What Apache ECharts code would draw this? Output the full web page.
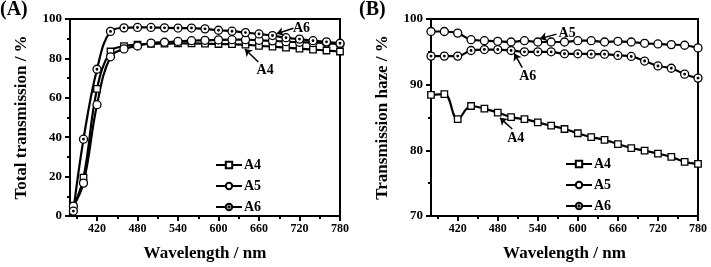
<!DOCTYPE html>
<html>
<head>
<meta charset="utf-8">
<script src="https://cdn.jsdelivr.net/npm/echarts@6/dist/echarts.min.js"></script>
<style>
  html, body { margin: 0; padding: 0; background: #fff; }
  #chart { width: 711px; height: 267px; }
</style>
</head>
<body>
<div id="chart"></div>
<script>
// (A) total transmission
const wlA = [385, 400, 420, 440, 460, 480, 500, 520, 540, 560, 580, 600, 620, 640, 660, 680, 700, 720, 740, 760, 780];
const totA4 = [4.5, 19.5, 64.5, 83.5, 86.2, 87.0, 87.4, 87.5, 87.6, 87.6, 87.5, 87.3, 87.2, 87.0, 86.4, 86.0, 85.5, 85.0, 84.5, 84.0, 83.5];
const totA5 = [5, 16.7, 56.5, 80.8, 84.8, 86.3, 87.8, 88.2, 88.6, 89.0, 89.2, 89.4, 89.5, 89.5, 89.2, 88.9, 88.5, 88.2, 88.0, 87.8, 87.3];
const totA6 = [2.5, 39, 74.5, 93.7, 95.5, 95.7, 95.7, 95.5, 95.4, 95.4, 95.0, 94.3, 93.8, 93.1, 92.4, 91.6, 90.5, 89.8, 89.0, 88.4, 87.7];

// (B) transmission haze
const wlB = [380, 400, 420, 440, 460, 480, 500, 520, 540, 560, 580, 600, 620, 640, 660, 680, 700, 720, 740, 760, 780];
const hazeA4 = [88.45, 88.55, 84.75, 86.75, 86.35, 85.75, 85.05, 84.75, 84.25, 83.75, 83.25, 82.6, 82.0, 81.6, 80.95, 80.35, 79.95, 79.5, 79.0, 78.25, 77.95];
const hazeA5 = [98.1, 98.1, 97.85, 96.85, 96.7, 96.6, 96.5, 96.7, 96.5, 96.5, 96.5, 96.7, 96.7, 96.5, 96.6, 96.5, 96.3, 96.2, 96.1, 96.0, 95.6];
const hazeA6 = [94.35, 94.35, 94.35, 95.2, 95.35, 95.35, 95.2, 95.0, 95.0, 95.0, 94.7, 94.7, 94.65, 94.65, 94.45, 94.3, 93.6, 92.85, 92.5, 91.6, 91.0];

const xMajor = [420, 480, 540, 600, 660, 720, 780];
const xMinor = [390, 450, 510, 570, 630, 690, 750];

// annotation arrows: label pos, arrow tail, arrow tip
const notesA = [
  { name: "A6", label: [723, 95.2], from: [711, 95.3], to: [686, 92.5] },
  { name: "A4", label: [669, 74], from: [659, 78.2], to: [639, 84.8] },
];
const notesB = [
  { name: "A5", label: [584, 97.8], from: [568, 97.7], to: [543, 97.0] },
  { name: "A6", label: [525, 91.3], from: [516.7, 92.6], to: [504.7, 94.75] },
  { name: "A4", label: [507, 81.8], from: [501.7, 83.25], to: [483.3, 84.95] },
];

const FONT = "Liberation Serif";
const dotCircle = "path://M10,0A10,10,0,1,1,-10,0A10,10,0,1,1,10,0ZM2,0A2,2,0,1,1,-2,0A2,2,0,1,1,2,0Z";

const chart = echarts.init(document.getElementById("chart"));

function pairs(xs, ys) {
  return xs.map((x, i) => [x, ys[i]]);
}

function makeSeries(name, xs, ys, gi, symbol, size) {
  return {
    name: name,
    type: "line",
    xAxisIndex: gi * 2,
    yAxisIndex: gi,
    data: pairs(xs, ys),
    smooth: 0.4,
    symbol: symbol,
    symbolSize: size,
    showAllSymbol: true,
    lineStyle: { color: "#000", width: 2.2 },
    itemStyle: { color: "#fff", borderColor: "#000", borderWidth: 1.3 },
    z: 3,
  };
}

function notesSeries(notes, gi) {
  return {
    type: "line",
    xAxisIndex: gi * 2,
    yAxisIndex: gi,
    data: [],
    markLine: {
      silent: true,
      symbol: ["none", "arrow"],
      symbolSize: 7,
      lineStyle: { color: "#000", width: 1.5, type: "solid" },
      label: { show: false },
      data: notes.map((n) => [{ coord: n.from }, { coord: n.to }]),
    },
    markPoint: {
      silent: true,
      symbol: "circle",
      symbolSize: 1,
      itemStyle: { color: "rgba(0,0,0,0)" },
      label: {
        show: true,
        position: "inside",
        color: "#000",
        fontFamily: FONT,
        fontWeight: "bold",
        fontSize: 14,
        formatter: (p) => p.name,
      },
      data: notes.map((n) => ({ name: n.name, coord: n.label })),
    },
  };
}

const axisText = { color: "#000", fontFamily: FONT, fontWeight: "bold" };

function xAxes(gi) {
  return [
    {
      type: "value",
      gridIndex: gi,
      min: 380,
      max: 780,
      name: "Wavelength / nm",
      nameLocation: "middle",
      nameGap: 29,
      nameTextStyle: Object.assign({ fontSize: 17 }, axisText),
      axisLine: { lineStyle: { color: "#000", width: 2 } },
      axisTick: { customValues: xMajor, length: 5, lineStyle: { color: "#000", width: 2 } },
      axisLabel: Object.assign({ customValues: xMajor, fontSize: 12, margin: 7 }, axisText),
      splitLine: { show: false },
    },
    {
      type: "value",
      gridIndex: gi,
      min: 380,
      max: 780,
      position: "bottom",
      axisLine: { show: false },
      axisTick: { customValues: xMinor, length: 3, lineStyle: { color: "#000", width: 2 } },
      axisLabel: { show: false },
      splitLine: { show: false },
    },
  ];
}

function yAxis(gi, name, min, max, interval) {
  return {
    type: "value",
    gridIndex: gi,
    min: min,
    max: max,
    interval: interval,
    name: name,
    nameLocation: "middle",
    nameGap: 40,
    nameTextStyle: Object.assign({ fontSize: 17 }, axisText),
    axisLine: { lineStyle: { color: "#000", width: 2 } },
    axisTick: { length: 5, lineStyle: { color: "#000", width: 2 } },
    minorTick: { show: true, splitNumber: 2, length: 3, lineStyle: { color: "#000", width: 2 } },
    axisLabel: Object.assign({ fontSize: 13, margin: 8 }, axisText),
    splitLine: { show: false },
  };
}

function legend(left, top) {
  return {
    left: left,
    top: top,
    orient: "vertical",
    itemWidth: 26,
    itemHeight: 8,
    itemGap: 7,
    padding: 0,
    textStyle: { color: "#000", fontFamily: FONT, fontWeight: "bold", fontSize: 14, padding: [0, 0, 0, -3] },
    data: ["A4", "A5", "A6"],
  };
}

const option = {
  animation: false,
  backgroundColor: "#fff",
  title: [
    { text: "(A)", left: 0, top: 0, padding: 0, textStyle: { color: "#000", fontFamily: FONT, fontWeight: "bold", fontSize: 20 } },
    { text: "(B)", left: 359, top: 0, padding: 0, textStyle: { color: "#000", fontFamily: FONT, fontWeight: "bold", fontSize: 20 } },
  ],
  legend: [legend(215, 158), legend(565, 157)],
  grid: [
    { left: 70, top: 19, width: 270, height: 200, show: true, borderColor: "#000", borderWidth: 2, backgroundColor: "#fff" },
    { left: 431, top: 19, width: 267, height: 200, show: true, borderColor: "#000", borderWidth: 2, backgroundColor: "#fff" },
  ],
  xAxis: xAxes(0).concat(xAxes(1)),
  yAxis: [
    yAxis(0, "Total transmission / %", 0, 100, 20),
    yAxis(1, "Transmission haze / %", 70, 100, 10),
  ],
  series: [
    makeSeries("A4", wlA, totA4, 0, "rect", 6.5),
    makeSeries("A5", wlA, totA5, 0, "circle", 8),
    makeSeries("A6", wlA, totA6, 0, dotCircle, 8),
    notesSeries(notesA, 0),
    makeSeries("A4", wlB, hazeA4, 1, "rect", 6.5),
    makeSeries("A5", wlB, hazeA5, 1, "circle", 8),
    makeSeries("A6", wlB, hazeA6, 1, dotCircle, 8),
    notesSeries(notesB, 1),
  ],
};

chart.setOption(option);
</script>
</body>
</html>
